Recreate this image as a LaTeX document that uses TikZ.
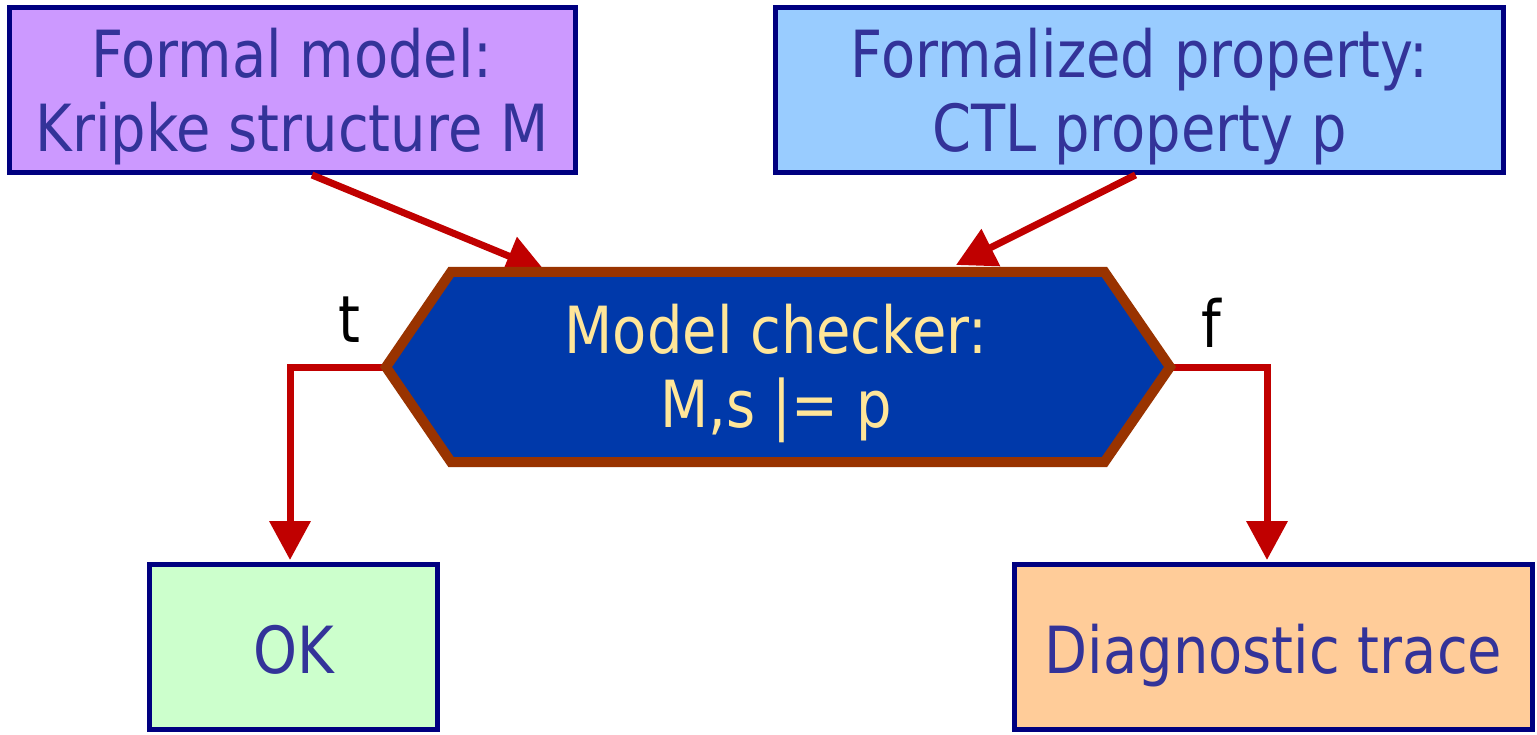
\documentclass[tikz,border=0pt]{standalone}
\usepackage{fontspec}
\setmainfont{DejaVu Sans}[FakeStretch=0.86]
\usetikzlibrary{arrows.meta}
\definecolor{navy}{HTML}{000080}
\definecolor{txtblue}{HTML}{333399}
\definecolor{lilac}{HTML}{CC99FF}
\definecolor{skyb}{HTML}{99CCFF}
\definecolor{mint}{HTML}{CCFFCC}
\definecolor{peach}{HTML}{FFCC99}
\definecolor{hexfill}{HTML}{0039AA}
\definecolor{hexline}{HTML}{993300}
\definecolor{hextext}{HTML}{FFE699}
\definecolor{arr}{HTML}{C00000}
\begin{document}
\begin{tikzpicture}[x=1pt,y=-1pt,
  bigfont/.style={font=\fontsize{65pt}{74pt}\selectfont},
  box/.style={bigfont, draw=navy, line width=5pt, text=txtblue, align=center, inner sep=0pt},
  conn/.style={draw=arr, line width=7pt, line join=miter},
  arrowconn/.style={conn, -{Triangle[width=40pt,length=39pt]}},
  lbl/.style={bigfont, text=black, anchor=base, inner sep=0pt},
  hexbox/.style={fill=hexfill, draw=hexline, line width=10pt, line join=miter},
  hextxt/.style={bigfont, text=hextext, align=center, inner sep=0pt}]
\useasboundingbox (0,0) rectangle (1537,735);
% boxes
\node[box, fill=lilac, minimum width=566pt, minimum height=165pt] (fm) at (292,90)
  {\rule{0pt}{63pt}Formal model:\\Kripke structure M};
\node[box, fill=skyb, minimum width=728pt, minimum height=165pt] (fp) at (1139.5,90)
  {\rule{0pt}{63pt}Formalized property:\\CTL property p};
\node[box, fill=mint, minimum width=288pt, minimum height=165pt] (ok) at (293.5,647)
  {\rule{0pt}{53pt}OK};
\node[box, fill=peach, minimum width=518pt, minimum height=165pt] (dt) at (1273.5,647)
  {\rule{0pt}{67pt}Diagnostic trace};
% hexagon corner points
\coordinate (hL) at (386,367);
\coordinate (hTL) at (451,272);
\coordinate (hTR) at (1104.5,272);
\coordinate (hR) at (1170,367);
\coordinate (hBR) at (1104.5,462);
\coordinate (hBL) at (451,462);
\coordinate (in1) at (545,271);
\coordinate (in2) at (956,265);
\coordinate (tc) at (290,367);
\coordinate (fc) at (1267,367);
% connectors
\draw[arrowconn] ([xshift=20pt]fm.south) -- (in1);
\draw[arrowconn] ([xshift=-4pt]fp.south) -- (in2);
\draw[arrowconn, shorten >=2pt] (hL) -- (tc) -- (tc |- ok.north);
\draw[arrowconn, shorten >=2pt] (hR) -- (fc) -- (fc |- dt.north);
% model checker
\filldraw[hexbox] (hL) -- (hTL) -- (hTR) -- (hR) -- (hBR) -- (hBL) -- cycle;
\node[hextxt] (mc) at (776,373) {Model checker:\\M,s |= p};
% labels
\node[lbl] (tl) at (349,343) {t};
\node[lbl] (fl) at (1211,348) {f};
\end{tikzpicture}
\end{document}
